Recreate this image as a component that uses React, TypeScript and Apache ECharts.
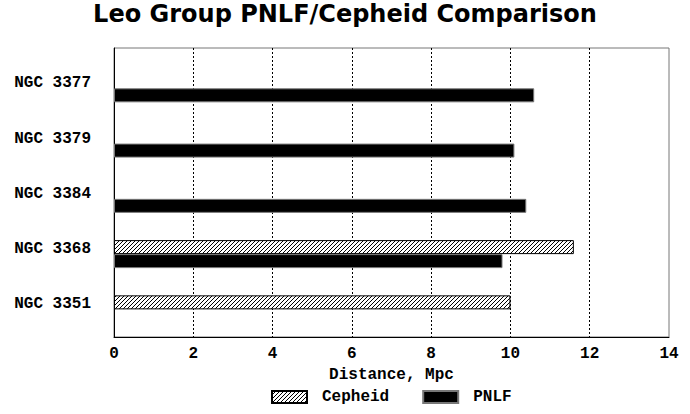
import React, { useEffect, useRef } from "react";
import * as echarts from "echarts";

const categories = ["NGC 3351", "NGC 3368", "NGC 3384", "NGC 3379", "NGC 3377"];
const cepheid: (number | null)[] = [10.0, 11.6, null, null, null];
const pnlf: (number | null)[] = [null, 9.8, 10.4, 10.1, 10.6];
const xTicks = { min: 0, max: 14, interval: 2 };
const titleText = "Leo Group PNLF/Cepheid Comparison";
const xName = "Distance, Mpc";

const MONO = "'Liberation Mono', 'DejaVu Sans Mono', monospace";

function makeHatch(): HTMLCanvasElement {
  const c = document.createElement("canvas");
  c.width = 4;
  c.height = 4;
  const ctx = c.getContext("2d")!;
  ctx.fillStyle = "#fff";
  ctx.fillRect(0, 0, 4, 4);
  ctx.fillStyle = "#000";
  ctx.fillRect(3, 0, 1, 1);
  ctx.fillRect(2, 1, 1, 1);
  ctx.fillRect(1, 2, 1, 1);
  ctx.fillRect(0, 3, 1, 1);
  return c;
}

export default function App() {
  const ref = useRef<HTMLDivElement>(null);
  useEffect(() => {
    if (!ref.current) return;
    const chart = echarts.init(ref.current, null, { renderer: "svg" });
    const hatch = makeHatch();
    const labelFont = { fontFamily: MONO, fontWeight: "bold" as const, fontSize: 16, color: "#000" };
    chart.setOption({
      animation: false,
      backgroundColor: "#fff",
      title: {
        text: titleText,
        left: "center",
        top: 2,
        padding: 0,
        textStyle: { fontFamily: "'DejaVu Sans', sans-serif", fontWeight: "bold", fontSize: 24, color: "#000" },
      },
      legend: {
        data: ["Cepheid", "PNLF"],
        left: 266,
        top: 384,
        icon: "rect",
        itemWidth: 35,
        itemHeight: 12,
        itemGap: 33,
        textStyle: { ...labelFont, padding: [0, 0, 0, 10] },
      },
      grid: [
        { left: 114, right: 21, top: 48, bottom: 77, show: true, borderColor: "#777", borderWidth: 1 },
        { left: 114, right: 21, top: 60.7, bottom: 77 },
      ],
      xAxis: [
        {
          type: "value",
          gridIndex: 0,
          min: xTicks.min,
          max: xTicks.max,
          interval: xTicks.interval,
          axisLine: { show: true, lineStyle: { color: "#000", width: 1 } },
          axisTick: { show: false },
          axisLabel: { ...labelFont, margin: 9 },
          splitLine: {
            show: true,
            showMinLine: false,
            showMaxLine: false,
            lineStyle: { color: "#000", type: [2, 2], width: 1 },
          },
          name: xName,
          nameLocation: "middle",
          nameGap: 25,
          nameTextStyle: labelFont,
        },
        {
          type: "value",
          gridIndex: 1,
          min: xTicks.min,
          max: xTicks.max,
          interval: xTicks.interval,
          show: false,
        },
      ],
      yAxis: [
        {
          type: "value",
          gridIndex: 0,
          axisLine: { show: true, lineStyle: { color: "#000", width: 1 } },
          axisTick: { show: false },
          axisLabel: { show: false },
          splitLine: { show: false },
        },
        {
          type: "category",
          gridIndex: 1,
          data: categories,
          axisLine: { show: false },
          axisTick: { show: false },
          splitLine: { show: false },
          axisLabel: { ...labelFont, margin: 23, verticalAlign: "bottom", lineHeight: 10 },
        },
      ],
      series: [
        {
          name: "Cepheid",
          type: "bar",
          xAxisIndex: 1,
          yAxisIndex: 1,
          data: cepheid,
          barWidth: 14,
          barGap: "0%",
          itemStyle: {
            color: { image: hatch, repeat: "repeat" },
            borderColor: "#000",
            borderWidth: 1,
          },
        },
        {
          name: "PNLF",
          type: "bar",
          xAxisIndex: 1,
          yAxisIndex: 1,
          data: pnlf,
          barWidth: 14,
          barGap: "0%",
          itemStyle: { color: "#000", borderColor: "#777", borderWidth: 1 },
        },
      ],
    });
    return () => chart.dispose();
  }, []);
  return <div ref={ref} style={{ position: "fixed", left: 0, top: 0, width: 690, height: 414 }} />;
}
